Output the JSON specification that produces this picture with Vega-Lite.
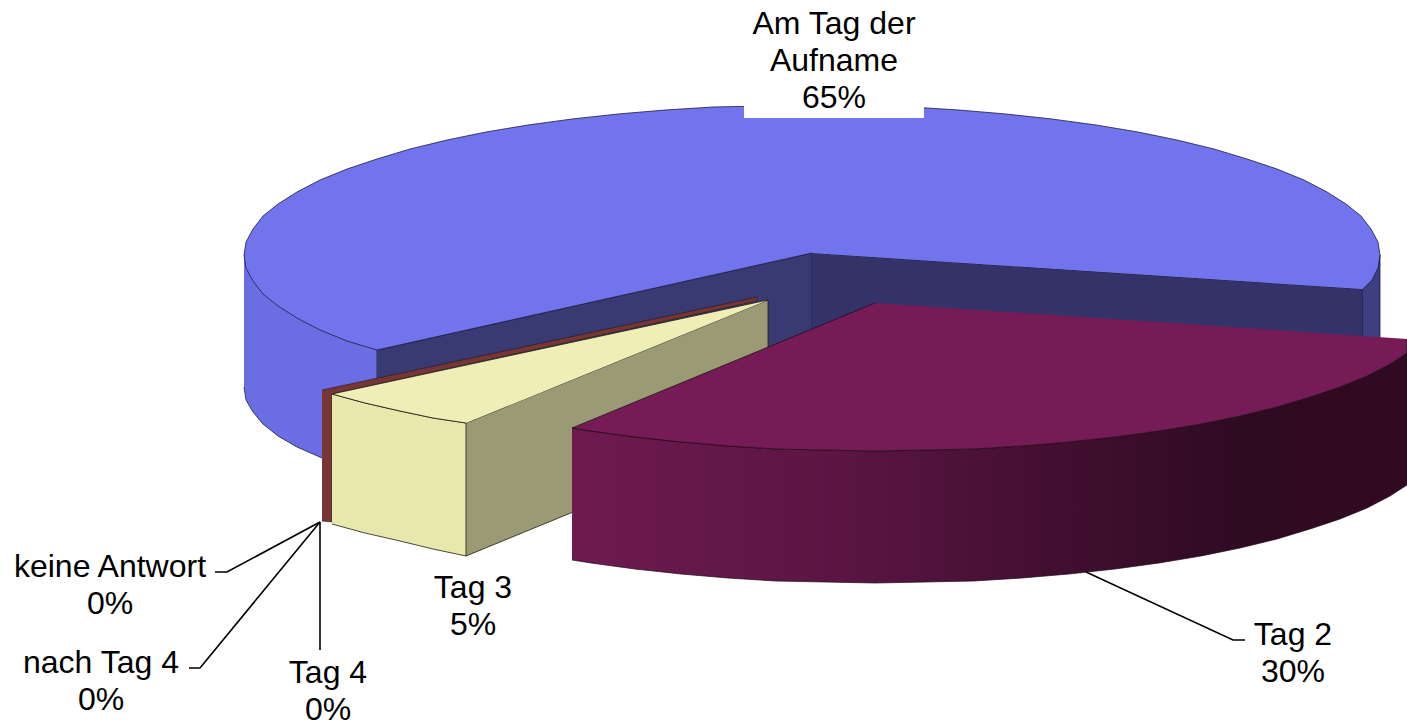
{
"$schema":"https://vega.github.io/schema/vega-lite/v6.json",
"width":1407,"height":726,"padding":0,
"autosize":"none",
"background":"white",
"view":{"stroke":null},
"config":{"view":{"stroke":null}},
"encoding":{
"x":{"field":"x","type":"quantitative","scale":{"domain":[0,1407],"nice":false,"zero":false},"axis":null},
"y":{"field":"y","type":"quantitative","scale":{"domain":[726,0],"nice":false,"zero":false},"axis":null}
},
"layer":[
{"mark":{"type":"line","fill":"#6a6ee2","stroke":"#1c1c40","strokeWidth":0.8},
"encoding":{"order":{"field":"i"}},
"data":{"values":[{"i":1,"x":244,"y":255},{"i":2,"x":377,"y":350},{"i":3,"x":377,"y":430},{"i":4,"x":322,"y":458},{"i":5,"x":297,"y":447},{"i":6,"x":278,"y":436},{"i":7,"x":263,"y":424},{"i":8,"x":253,"y":412},{"i":9,"x":246,"y":400},{"i":10,"x":244,"y":387}]}},
{"mark":{"type":"line","fill":"#3a3a72","stroke":"#1c1c40","strokeWidth":0.8},
"encoding":{"order":{"field":"i"}},
"data":{"values":[{"i":1,"x":377,"y":350},{"i":2,"x":812,"y":253},{"i":3,"x":812,"y":330},{"i":4,"x":768,"y":350},{"i":5,"x":377,"y":420}]}},
{"mark":{"type":"line","fill":"#33336a","stroke":"#1c1c40","strokeWidth":0.8},
"encoding":{"order":{"field":"i"}},
"data":{"values":[{"i":1,"x":812,"y":253},{"i":2,"x":1363,"y":289},{"i":3,"x":1363,"y":345},{"i":4,"x":812,"y":345}]}},
{"mark":{"type":"line","fill":"#3d3f80","stroke":"#1c1c40","strokeWidth":0.8},
"encoding":{"order":{"field":"i"}},
"data":{"values":[{"i":1,"x":1363,"y":289},{"i":2,"x":1372,"y":280},{"i":3,"x":1378,"y":268},{"i":4,"x":1380,"y":255},{"i":5,"x":1380,"y":345},{"i":6,"x":1363,"y":345}]}},
{"mark":{"type":"line","fill":"#7274ee","stroke":"#1c1c40","strokeWidth":0.8},
"encoding":{"order":{"field":"i"}},
"data":{"values":[{"i":1,"x":812,"y":253},{"i":2,"x":377,"y":350},{"i":3,"x":347,"y":341},{"i":4,"x":320,"y":330},{"i":5,"x":297,"y":318},{"i":6,"x":278,"y":306},{"i":7,"x":263,"y":294},{"i":8,"x":253,"y":281},{"i":9,"x":246,"y":268},{"i":10,"x":244,"y":255},{"i":11,"x":246,"y":242},{"i":12,"x":253,"y":229},{"i":13,"x":263,"y":216},{"i":14,"x":278,"y":204},{"i":15,"x":297,"y":192},{"i":16,"x":320,"y":180},{"i":17,"x":347,"y":169},{"i":18,"x":377,"y":159},{"i":19,"x":410,"y":149},{"i":20,"x":447,"y":140},{"i":21,"x":486,"y":132},{"i":22,"x":528,"y":125},{"i":23,"x":572,"y":119},{"i":24,"x":618,"y":114},{"i":25,"x":665,"y":110},{"i":26,"x":713,"y":107},{"i":27,"x":763,"y":106},{"i":28,"x":812,"y":105},{"i":29,"x":861,"y":106},{"i":30,"x":911,"y":107},{"i":31,"x":959,"y":110},{"i":32,"x":1006,"y":114},{"i":33,"x":1052,"y":119},{"i":34,"x":1096,"y":125},{"i":35,"x":1138,"y":132},{"i":36,"x":1177,"y":140},{"i":37,"x":1214,"y":149},{"i":38,"x":1247,"y":159},{"i":39,"x":1277,"y":169},{"i":40,"x":1304,"y":180},{"i":41,"x":1327,"y":192},{"i":42,"x":1346,"y":204},{"i":43,"x":1361,"y":216},{"i":44,"x":1371,"y":229},{"i":45,"x":1378,"y":242},{"i":46,"x":1380,"y":255},{"i":47,"x":1378,"y":268},{"i":48,"x":1372,"y":280},{"i":49,"x":1363,"y":289}]}},
{"mark":{"type":"line","fill":"#773535","stroke":"#1c1c20","strokeWidth":0.6},
"encoding":{"order":{"field":"i"}},
"data":{"values":[{"i":1,"x":322,"y":390},{"i":2,"x":757,"y":297},{"i":3,"x":757,"y":301},{"i":4,"x":332,"y":394},{"i":5,"x":332,"y":522},{"i":6,"x":322,"y":521}]}},
{"mark":{"type":"line","fill":"#9a9a74","stroke":"#1c1c10","strokeWidth":0.8},
"encoding":{"order":{"field":"i"}},
"data":{"values":[{"i":1,"x":466,"y":423},{"i":2,"x":768,"y":300},{"i":3,"x":768,"y":432},{"i":4,"x":466,"y":556}]}},
{"mark":{"type":"line","fill":"#e8e8ac","stroke":"#1c1c10","strokeWidth":0.8},
"encoding":{"order":{"field":"i"}},
"data":{"values":[{"i":1,"x":332,"y":394},{"i":2,"x":365,"y":403},{"i":3,"x":400,"y":411},{"i":4,"x":433,"y":418},{"i":5,"x":466,"y":423},{"i":6,"x":466,"y":556},{"i":7,"x":433,"y":549},{"i":8,"x":400,"y":541},{"i":9,"x":365,"y":533},{"i":10,"x":332,"y":524}]}},
{"mark":{"type":"line","fill":"#eeeeb6","stroke":"#1c1c10","strokeWidth":0.8},
"encoding":{"order":{"field":"i"}},
"data":{"values":[{"i":1,"x":768,"y":300},{"i":2,"x":332,"y":394},{"i":3,"x":365,"y":403},{"i":4,"x":400,"y":411},{"i":5,"x":433,"y":418},{"i":6,"x":466,"y":423}]}},
{"mark":{"type":"line","fill":{"gradient":"linear","x1":0,"y1":0,"x2":1,"y2":0,"stops":[{"offset":0,"color":"#6e1a50"},{"offset":0.32,"color":"#5b1543"},{"offset":0.58,"color":"#420f30"},{"offset":0.8,"color":"#2f0a23"},{"offset":1,"color":"#300a22"}]},"stroke":"#1a0a14","strokeWidth":0.7},
"encoding":{"order":{"field":"i"}},
"data":{"values":[{"i":1,"x":572,"y":428},{"i":2,"x":591,"y":431},{"i":3,"x":635,"y":437},{"i":4,"x":681,"y":442},{"i":5,"x":728,"y":446},{"i":6,"x":776,"y":449},{"i":7,"x":825,"y":450},{"i":8,"x":875,"y":451},{"i":9,"x":925,"y":450},{"i":10,"x":974,"y":449},{"i":11,"x":1022,"y":446},{"i":12,"x":1069,"y":442},{"i":13,"x":1115,"y":437},{"i":14,"x":1159,"y":431},{"i":15,"x":1201,"y":424},{"i":16,"x":1240,"y":416},{"i":17,"x":1277,"y":407},{"i":18,"x":1310,"y":397},{"i":19,"x":1340,"y":387},{"i":20,"x":1367,"y":376},{"i":21,"x":1390,"y":364},{"i":22,"x":1407,"y":353},{"i":23,"x":1407,"y":485},{"i":24,"x":1390,"y":496},{"i":25,"x":1367,"y":508},{"i":26,"x":1340,"y":519},{"i":27,"x":1310,"y":529},{"i":28,"x":1277,"y":539},{"i":29,"x":1240,"y":548},{"i":30,"x":1201,"y":556},{"i":31,"x":1159,"y":563},{"i":32,"x":1115,"y":569},{"i":33,"x":1069,"y":574},{"i":34,"x":1022,"y":578},{"i":35,"x":974,"y":581},{"i":36,"x":925,"y":582},{"i":37,"x":875,"y":583},{"i":38,"x":825,"y":582},{"i":39,"x":776,"y":581},{"i":40,"x":728,"y":578},{"i":41,"x":681,"y":574},{"i":42,"x":635,"y":569},{"i":43,"x":591,"y":563},{"i":44,"x":572,"y":560}]}},
{"mark":{"type":"line","fill":"#761b55","stroke":"#1a0a14","strokeWidth":0.7},
"encoding":{"order":{"field":"i"}},
"data":{"values":[{"i":1,"x":875,"y":303},{"i":2,"x":572,"y":428},{"i":3,"x":591,"y":431},{"i":4,"x":635,"y":437},{"i":5,"x":681,"y":442},{"i":6,"x":728,"y":446},{"i":7,"x":776,"y":449},{"i":8,"x":825,"y":450},{"i":9,"x":875,"y":451},{"i":10,"x":925,"y":450},{"i":11,"x":974,"y":449},{"i":12,"x":1022,"y":446},{"i":13,"x":1069,"y":442},{"i":14,"x":1115,"y":437},{"i":15,"x":1159,"y":431},{"i":16,"x":1201,"y":424},{"i":17,"x":1240,"y":416},{"i":18,"x":1277,"y":407},{"i":19,"x":1310,"y":397},{"i":20,"x":1340,"y":387},{"i":21,"x":1367,"y":376},{"i":22,"x":1390,"y":364},{"i":23,"x":1407,"y":353},{"i":24,"x":1407,"y":339}]}},
{"mark":{"type":"rect","fill":"white"},
"data":{"values":[{"x":744,"x2":924,"y":0,"y2":118}]},
"encoding":{"x2":{"field":"x2"},"y2":{"field":"y2"}}},
{"mark":{"type":"line","stroke":"black","strokeWidth":1.6},
"encoding":{"order":{"field":"i"},"detail":{"field":"category"}},
"data":{"values":[
{"category":"keine Antwort","i":1,"x":215,"y":572},{"category":"keine Antwort","i":2,"x":227,"y":572},{"category":"keine Antwort","i":3,"x":320,"y":522},
{"category":"nach Tag 4","i":1,"x":189,"y":668},{"category":"nach Tag 4","i":2,"x":200,"y":668},{"category":"nach Tag 4","i":3,"x":320,"y":522},
{"category":"Tag 4","i":1,"x":320,"y":650},{"category":"Tag 4","i":2,"x":320,"y":522},
{"category":"Tag 2","i":1,"x":1086,"y":572},{"category":"Tag 2","i":2,"x":1233,"y":640},{"category":"Tag 2","i":3,"x":1245,"y":640}
]}},
{"mark":{"type":"text","font":"Liberation Sans","fontSize":32,"align":"center","baseline":"alphabetic","lineBreak":"\n","lineHeight":37,"color":"black"},
"encoding":{"text":{"field":"label"}},
"data":{"values":[
{"label":"Am Tag der\nAufname\n65%","share":65,"x":834,"y":34},
{"label":"Tag 2\n30%","share":30,"x":1293,"y":645},
{"label":"Tag 3\n5%","share":5,"x":473,"y":598},
{"label":"Tag 4\n0%","share":0,"x":328,"y":683},
{"label":"nach Tag 4\n0%","share":0,"x":101,"y":673},
{"label":"keine Antwort\n0%","share":0,"x":110,"y":577}
]}}
]
}
